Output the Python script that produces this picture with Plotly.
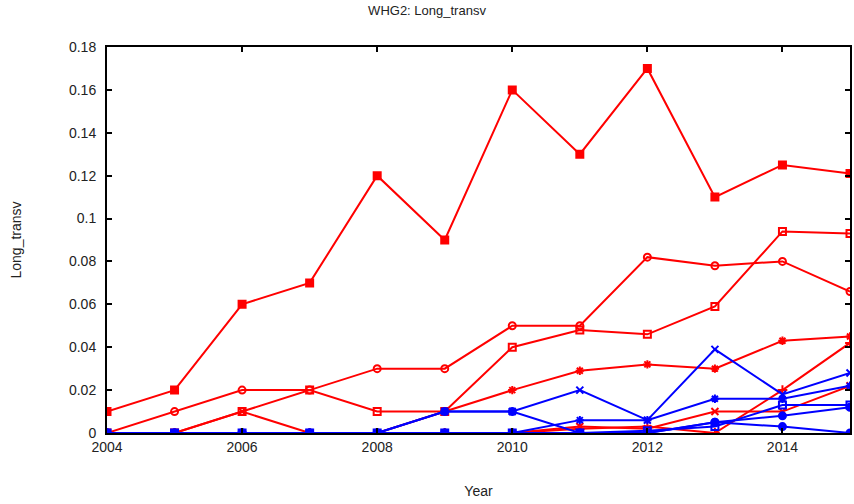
import plotly.graph_objects as go

# Data
years = list(range(2004, 2016))

red_sq = [0.01, 0.02, 0.06, 0.07, 0.12, 0.09, 0.16, 0.13, 0.17, 0.11, 0.125, 0.121]
red_circ = [0, 0.01, 0.02, 0.02, 0.03, 0.03, 0.05, 0.05, 0.082, 0.078, 0.08, 0.066]
red_osq = [0, 0, 0.01, 0.02, 0.01, 0.01, 0.04, 0.048, 0.046, 0.059, 0.094, 0.093]
red_x = [0, 0, 0, 0, 0, 0.01, 0.02, 0.029, 0.032, 0.03, 0.043, 0.045]
red_star = [0, 0, 0.01, 0, 0, 0, 0, 0.003, 0.002, 0.01, 0.01, 0.022]
red_plus = [0, 0, 0, 0, 0, 0, 0, 0.002, 0.003, 0, 0.02, 0.042]

blue_x = [0, 0, 0, 0, 0, 0.01, 0.01, 0.02, 0.006, 0.039, 0.018, 0.028]
blue_circ = [0, 0, 0, 0, 0, 0.01, 0.01, 0, 0, 0.005, 0.003, 0]
blue_xs = [0, 0, 0, 0, 0, 0, 0, 0.006, 0.006, 0.016, 0.016, 0.022]
blue_osq = [0, 0, 0, 0, 0, 0, 0, 0, 0.001, 0.003, 0.013, 0.013]
blue_tri = [0, 0, 0, 0, 0, 0, 0, 0, 0, 0.005, 0.008, 0.012]

RED = '#ff0000'
BLUE = '#0000ff'

series = [
    (red_sq, RED, 'square', 'R1'),
    (red_circ, RED, 'circle-open', 'R2'),
    (red_osq, RED, 'square-open', 'R3'),
    (red_x, RED, 'asterisk-open', 'R4'),
    (red_star, RED, 'x-thin-open', 'R5'),
    (red_plus, RED, 'cross-thin-open', 'R6'),
    (blue_circ, BLUE, 'circle', 'B2'),
    (blue_xs, BLUE, 'asterisk-open', 'B3'),
    (blue_osq, BLUE, 'square-open', 'B4'),
    (blue_tri, BLUE, 'circle', 'B5'),
    (blue_x, BLUE, 'x-thin-open', 'B1'),
]

fig = go.Figure()

for vals, col, sym, name in series:
    fig.add_trace(go.Scatter(
        x=years, y=vals,
        mode='lines+markers',
        line=dict(color=col, width=2),
        marker=dict(symbol=sym, size=7, color=col, line=dict(color=col, width=2)),
        name=name,
    ))

fig.update_layout(
    width=854, height=504,
    margin=dict(l=107, r=2, t=47, b=71),
    paper_bgcolor='white', plot_bgcolor='white',
    showlegend=False,
    font=dict(family='Liberation Sans, Arial, sans-serif', size=14, color='#222'),
    title=dict(text='WHG2: Long_transv', x=0.5, xanchor='center', y=0.988, yanchor='top',
               font=dict(size=13, color='#222')),
)

fig.update_xaxes(
    range=[2004, 2015], dtick=2, tick0=2004,
    showline=True, linecolor='black', linewidth=2, mirror='ticks',
    ticks='inside', ticklen=5, tickwidth=2, tickcolor='black',
    showgrid=False, zeroline=False,
    title=dict(text='Year', standoff=32, font=dict(size=14)),
)
fig.update_yaxes(
    range=[0, 0.18], dtick=0.02, tick0=0,
    showline=True, linecolor='black', linewidth=2, mirror='ticks',
    ticks='inside', ticklen=5, tickwidth=2, tickcolor='black',
    showgrid=False, zeroline=False, ticklabelstandoff=6,
    title=dict(text='Long_transv', standoff=44, font=dict(size=14)),
)

# drop the page's default body margin so the figure sits at the window's corner
fig.write_html("out.html", config={'displayModeBar': False},
               post_script="document.body.style.margin='0';")
